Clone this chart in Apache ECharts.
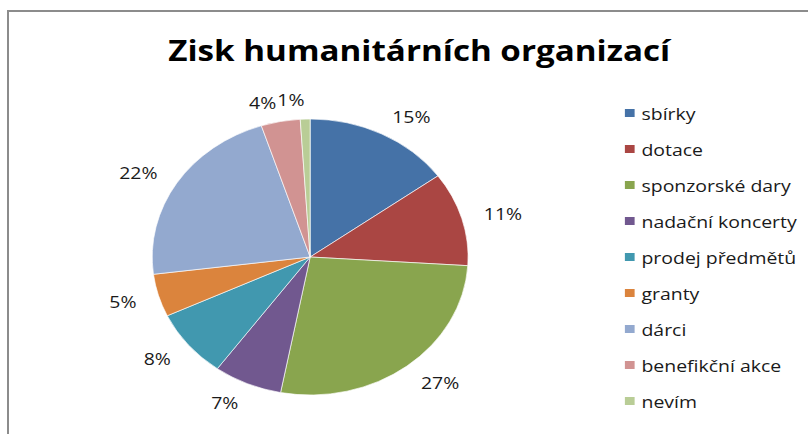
<!DOCTYPE html>
<html><head><meta charset="utf-8">
<script src="https://cdn.jsdelivr.net/npm/echarts@6/dist/echarts.min.js"></script>
<style>
html,body{margin:0;padding:0;background:#fff;overflow:hidden;width:808px;height:434px}
#frame{position:absolute;left:7px;top:10px;width:900px;height:500px;border-left:2px solid #8c8c8c;border-top:2px solid #8c8c8c;}
#chart{position:absolute;left:0;top:0;width:706px;height:434px;transform-origin:0 0;transform:scaleX(1.14448);}
</style></head>
<body>
<div id="frame"></div>
<div id="chart"></div>
<script>
const chartTitle = 'Zisk humanitárních organizací';
const categories = ['sbírky','dotace','sponzorské dary','nadační koncerty','prodej předmětů','granty','dárci','benefikční akce','nevím'];
const values = [15, 11, 27, 7, 8, 5, 22, 4, 1];
const colors = ['#4572A7','#AA4643','#89A54E','#71588F','#4198AF','#DB843D','#93A9CF','#D19392','#B9CD96'];

const FONT = '"Open Sans", "Liberation Sans", sans-serif';
const chart = echarts.init(document.getElementById('chart'), null, {renderer: 'svg'});
chart.setOption({
  animation: false,
  color: colors,
  title: {
    text: chartTitle,
    left: 142,
    top: 30,
    textStyle: {fontFamily: FONT, fontWeight: 'bold', fontSize: 29, color: '#000'}
  },
  legend: {
    orient: 'vertical',
    left: 539,
    top: 98,
    icon: 'rect',
    itemWidth: 10.5,
    itemHeight: 10,
    itemGap: 16,
    selectedMode: false,
    data: categories,
    textStyle: {fontFamily: FONT, fontSize: 17, color: '#1a1a1a', lineHeight: 20}
  },
  series: [{
    type: 'pie',
    center: [271, 257],
    radius: 138,
    startAngle: 90,
    clockwise: true,
    avoidLabelOverlap: false,
    silent: true,
    itemStyle: {borderColor: '#ffffff', borderWidth: 0.6},
    label: {
      show: true,
      position: 'outside',
      formatter: '{d}%',
      fontFamily: FONT,
      fontSize: 17,
      color: '#1a1a1a',
      distanceToLabelLine: 0
    },
    labelLine: {show: false, length: 20, length2: 0},
    data: categories.map((c, i) => ({name: c, value: values[i]}))
  }]
});
</script>
</body></html>
